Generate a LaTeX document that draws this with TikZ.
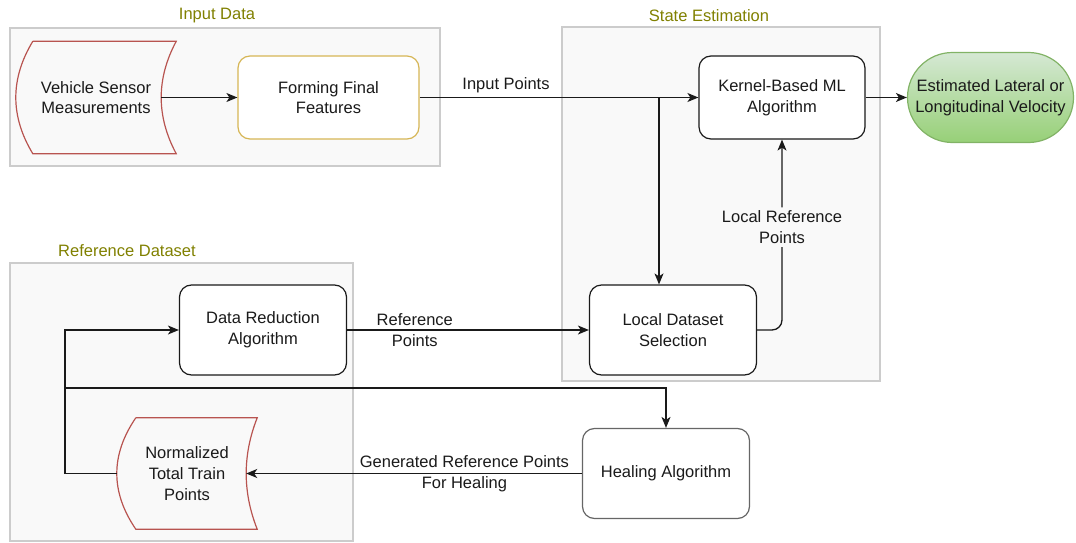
\documentclass[tikz,border=0pt]{standalone}
\usepackage{fontspec}
\setmainfont{Liberation Sans}
\usepackage{tikz}
\usetikzlibrary{arrows.meta, positioning, calc}
\definecolor{myink}{RGB}{26,26,26}
\definecolor{mygrpline}{RGB}{204,204,204}
\definecolor{mygrpfill}{RGB}{249,249,249}
\definecolor{myolive}{RGB}{128,128,0}
\definecolor{myred}{RGB}{184,84,80}
\definecolor{mygold}{RGB}{214,182,86}
\definecolor{mygrey}{RGB}{102,102,102}
\definecolor{mygreenline}{RGB}{130,179,102}
\definecolor{mygreentop}{RGB}{213,232,212}
\definecolor{mygreenbot}{RGB}{151,208,119}
\tikzset{
  base/.style={font=\fontsize{16.5}{20.7}\selectfont, text=myink, align=center},
  group/.style={draw=mygrpline, fill=mygrpfill, line width=1.2pt},
  grouptitle/.style={base, text=myolive},
  procbox/.style={base, rectangle, draw=myink, fill=white, rounded corners=12pt,
    minimum width=167pt, minimum height=90pt, line width=1.2pt},
  featbox/.style={procbox, draw=mygold, minimum width=181pt, minimum height=83pt},
  healbox/.style={procbox, draw=mygrey},
  storebox/.style={base, minimum height=112pt, inner sep=0pt},
  storeline/.style={draw=myred, line width=1.2pt},
  termbox/.style={base, draw=mygreenline, top color=mygreentop, bottom color=mygreenbot,
    rounded corners=45pt, minimum width=166pt, minimum height=90pt, line width=1.2pt},
  arrow/.style={-{Stealth[length=11pt, width=9pt, inset=3pt]}, line width=1.3pt, color=myink},
  edgelbl/.style={base}
}

\begin{document}
\begin{tikzpicture}[x=1pt, y=-1pt]
  \useasboundingbox (0,0) rectangle (1076,543);

  % --- group frames ---
  \draw[group] (10,28) rectangle (440,166);
  \draw[group] (562,27) rectangle (880,381);
  \draw[group] (10,263) rectangle (353,541);
  \node[grouptitle] (tin) at (217,15.5) {Input Data};
  \node[grouptitle] (tstate) at (709,15.5) {State Estimation};
  \node[grouptitle] (tref) at (127,250.5) {Reference Dataset};

  % --- Input Data ---
  \node[storebox, minimum width=160pt] (vsm) at (96,97.5) {Vehicle Sensor\\Measurements};
  \node[featbox] (fff) at (328.5,97.5) {Forming Final\\Features};

  % --- State Estimation ---
  \node[procbox, minimum width=166pt, minimum height=83pt] (kern) at (782,97.5) {Kernel-Based ML\\Algorithm};
  \node[termbox] (vel) at (990.5,97.5) {Estimated Lateral or\\Longitudinal Velocity};
  \node[procbox] (lds) at (673,330) {Local Dataset\\Selection};

  % --- Reference Dataset ---
  \node[procbox] (dra) at (263,330) {Data Reduction\\Algorithm};
  \node[storebox, minimum width=140pt, minimum height=111pt] (nttp) at (187,473.5) {Normalized\\Total Train\\Points};
  \node[healbox] (heal) at (666,473.5) {Healing Algorithm};

  % data storage outlines (bulged left side, hollow right side)
  \foreach \n/\lft/\rgt in {vsm/17/15, nttp/19/11} {
    \draw[storeline] ($(\n.north west)+(\lft,0)$) -- (\n.north east)
      .. controls ($(\n.north east)!1/3!(\n.south east)+(-4*\rgt/3,0)$)
         and ($(\n.south east)!1/3!(\n.north east)+(-4*\rgt/3,0)$) .. (\n.south east)
      -- ($(\n.south west)+(\lft,0)$)
      .. controls ($(\n.south west)!1/3!(\n.north west)+(-\lft/3,0)$)
         and ($(\n.north west)!1/3!(\n.south west)+(-\lft/3,0)$) .. ($(\n.north west)+(\lft,0)$);
  }

  % --- connectors ---
  \coordinate (split) at (659,97.5);
  \coordinate (back) at (65,388);
  \draw[arrow] ($(vsm.east)+(-15,0)$) -- (fff.west);
  \draw[arrow] (fff.east) -- node[edgelbl, above, pos=0.31, yshift=1pt] (lblin) {Input Points} (kern.west);
  \draw[arrow] (split) -- (split |- lds.north);
  \draw[arrow] (kern) -- (vel);
  \draw[arrow, rounded corners=10pt] (lds.east) -| node[edgelbl, fill=mygrpfill, pos=0.77] (lbllocal) {Local Reference\\Points} (kern.south);
  \draw[arrow] (dra) -- node[edgelbl, pos=0.28] (lblref) {Reference\\Points} (lds);
  \draw[arrow] (heal) -- node[edgelbl, pos=0.35] (lblgen) {Generated Reference Points\\For Healing} ($(nttp.east)+(-11,0)$);
  \draw[arrow] (nttp.west) -| (back) |- (dra.west);
  \draw[arrow] (back) -| (heal.north);
\end{tikzpicture}
\end{document}
